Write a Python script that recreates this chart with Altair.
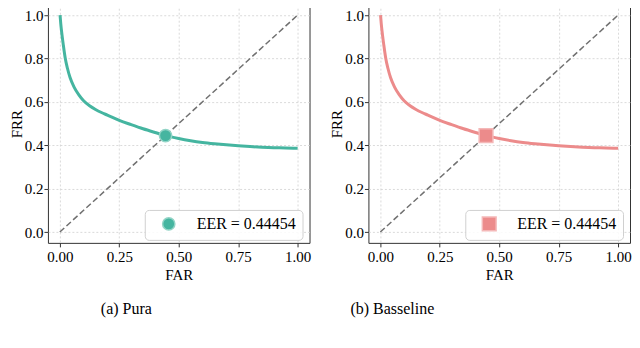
import altair as alt
import pandas as pd

# ---- data ----
far = [0.001, 0.004, 0.009, 0.015, 0.023, 0.032, 0.043, 0.06, 0.08, 0.10, 0.125,
       0.15, 0.175, 0.20, 0.25, 0.30, 0.35, 0.40, 0.4445, 0.50, 0.55, 0.60, 0.65,
       0.70, 0.75, 0.80, 0.85, 0.90, 0.95, 1.00]
frr = [1.0, 0.96, 0.91, 0.86, 0.80, 0.755, 0.712, 0.668, 0.632, 0.605, 0.582,
       0.565, 0.551, 0.539, 0.515, 0.495, 0.476, 0.459, 0.4445, 0.431, 0.421, 0.413, 0.407,
       0.402, 0.398, 0.394, 0.391, 0.389, 0.387, 0.386]
diag = [0.0, 1.0]
eer = 0.44454
legend_label = "EER = 0.44454"
x_ticks = [0.0, 0.25, 0.5, 0.75, 1.0]
y_ticks = [0.0, 0.2, 0.4, 0.6, 0.8, 1.0]
captions = ["(a)  Pura", "(b)  Basseline"]
caption_dx = [53, -18]
colors = ["#45b5a0", "#ec8b8b"]
edges = ["#92d4c6", "#f4b8b8"]
shapes = ["circle", "square"]
sizes = [150, 190]

FONT = "Liberation Serif"


def panel(i):
    curve_df = pd.DataFrame({"FAR": far, "FRR": frr})
    diag_df = pd.DataFrame({"FAR": diag, "FRR": diag})
    pt_df = pd.DataFrame({"FAR": [eer], "FRR": [eer], "label": [legend_label]})

    xs = alt.Scale(domain=[-0.05, 1.05], nice=False, zero=False)
    ys = alt.Scale(domain=[-0.05, 1.05], nice=False, zero=False)
    xa = alt.Axis(values=x_ticks, format=".2f", title="FAR",
                  labelFont=FONT, titleFont=FONT, labelPadding=3, titlePadding=3)
    ya = alt.Axis(values=y_ticks, format=".1f", title="FRR",
                  labelFont=FONT, titleFont=FONT, labelPadding=1, titlePadding=0)

    curve = alt.Chart(curve_df).mark_line(
        color=colors[i], strokeWidth=3, interpolate="monotone"
    ).encode(x=alt.X("FAR:Q", scale=xs, axis=xa), y=alt.Y("FRR:Q", scale=ys, axis=ya))

    dline = alt.Chart(diag_df).mark_line(
        color="#707070", strokeWidth=1.5, strokeDash=[6, 3]
    ).encode(x=alt.X("FAR:Q", scale=xs, axis=xa), y=alt.Y("FRR:Q", scale=ys, axis=ya))

    pt = alt.Chart(pt_df).mark_point(
        shape=shapes[i], filled=True, size=sizes[i], opacity=1,
        stroke=edges[i], strokeWidth=1.5
    ).encode(
        x=alt.X("FAR:Q", scale=xs, axis=xa),
        y=alt.Y("FRR:Q", scale=ys, axis=ya),
        color=alt.Color(
            "label:N",
            scale=alt.Scale(range=[colors[i]]),
            legend=alt.Legend(
                title=None, orient="none", legendX=97, legendY=206,
                symbolType=shapes[i], symbolSize=sizes[i],
                symbolStrokeColor=edges[i], symbolStrokeWidth=1.5,
                symbolOffset=10, labelOffset=20, padding=6,
                fillColor="rgba(255,255,255,0.85)", strokeColor="#d0d0d0",
                cornerRadius=4, labelFont=FONT, labelFontSize=16,
                labelColor="black", labelLimit=300,
            ),
        ),
    )

    return alt.layer(curve, dline, pt).properties(
        width=262, height=239,
        title=alt.TitleParams(
            text=captions[i], orient="bottom", anchor="start", frame="group",
            dx=caption_dx[i], offset=18, font=FONT, fontSize=16,
            fontWeight="normal", color="black",
        ),
    )


chart = alt.hconcat(panel(0), panel(1), spacing=17).resolve_scale(
    color="independent"
).properties(
    padding={"left": 0, "top": -5, "right": 0, "bottom": 0},
    autosize=alt.AutoSizeParams(type="pad"),
).configure(
    font=FONT
).configure_view(
    stroke="#333333", strokeWidth=1
).configure_axis(
    domain=False, tickColor="#333333", tickSize=4, tickWidth=1,
    labelFont=FONT, labelFontSize=15, labelColor="black",
    titleFont=FONT, titleFontSize=15, titleFontWeight="normal", titleColor="black",
    gridColor="#d0d0d0", gridDash=[2, 2], gridWidth=0.8,
).configure_legend(
    labelFont=FONT
)

chart.save("out.html", embed_options={"renderer": "svg", "actions": False})
